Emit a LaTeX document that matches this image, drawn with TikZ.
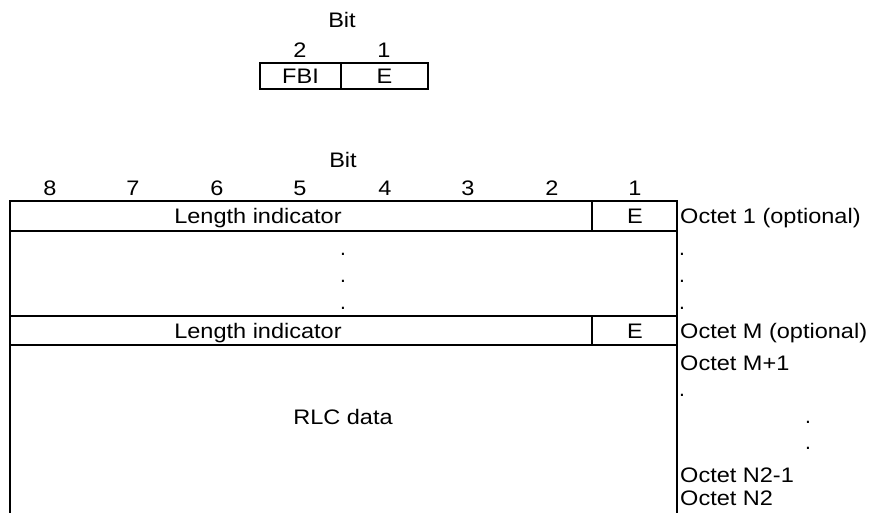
\documentclass[tikz,border=0pt]{standalone}
\usepackage{fontspec}
\setmainfont{Liberation Sans}
\newcommand{\wx}[1]{\scalebox{1.12}[1]{#1}}
\begin{document}
\begin{tikzpicture}[x=1pt,y=-1pt,
  lbl/.style={inner sep=0pt, text height=15pt, text depth=0pt, font=\fontsize{21}{25}\selectfont},
  dotlbl/.style={inner sep=0pt, font=\fontsize{21}{25}\selectfont},
  frame/.style={line width=1.3pt, line cap=rect}]
\useasboundingbox (0,0) rectangle (873,512);

% ---- top small diagram ----
\node[lbl] (bitA) at (342,20) {\wx{Bit}};
\node[lbl] (a2) at (300,50) {\wx{2}};
\node[lbl] (a1) at (384,50) {\wx{1}};
\draw[frame] (260,63) rectangle (428,89);
\draw[frame] (341,63) -- (341,89);
\node[lbl] (fbi) at (300.5,76) {\wx{FBI}};
\node[lbl] (eA) at (384.5,76) {\wx{E}};

% ---- main diagram ----
\node[lbl] (bitB) at (343,160) {\wx{Bit}};
\foreach \n/\x in {8/50,7/133,6/217,5/300,4/385,3/468,2/552,1/635}
  \node[lbl] (b\n) at (\x,188) {\wx{\n}};

\draw[frame] (10,512) -- (10,201) -- (677,201) -- (677,512);
\draw[frame] (10,231) -- (677,231);
\draw[frame] (592,201) -- (592,231);
\draw[frame] (10,316) -- (677,316);
\draw[frame] (10,345) -- (677,345);
\draw[frame] (592,316) -- (592,345);

\node[lbl] (li1) at (258,216) {\wx{Length indicator}};
\node[lbl] (e1) at (635,216) {\wx{E}};
\node[lbl] (liM) at (258,331) {\wx{Length indicator}};
\node[lbl] (eM) at (635,331) {\wx{E}};

\node[dotlbl] (d1) at (343,254) {.};
\node[dotlbl] (d2) at (343,281) {.};
\node[dotlbl] (d3) at (343,308) {.};

\node[lbl] (rlc) at (343,417) {\wx{RLC data}};

% ---- right labels ----
\node[lbl, anchor=west] (o1) at (680,216) {\wx{Octet 1 (optional)}};
\node[dotlbl] (r1) at (682,254) {.};
\node[dotlbl] (r2) at (682,281) {.};
\node[dotlbl] (r3) at (682,308) {.};
\node[lbl, anchor=west] (oM) at (680,331) {\wx{Octet M (optional)}};
\node[lbl, anchor=west] (oM1) at (680,363) {\wx{Octet M+1}};
\node[dotlbl] (r4) at (682,395) {.};
\node[dotlbl] (r5) at (808,422) {.};
\node[dotlbl] (r6) at (808,448) {.};
\node[lbl, anchor=west] (oN1) at (680,475) {\wx{Octet N2-1}};
\node[lbl, anchor=west] (oN) at (680,498) {\wx{Octet N2}};
\end{tikzpicture}
\end{document}
